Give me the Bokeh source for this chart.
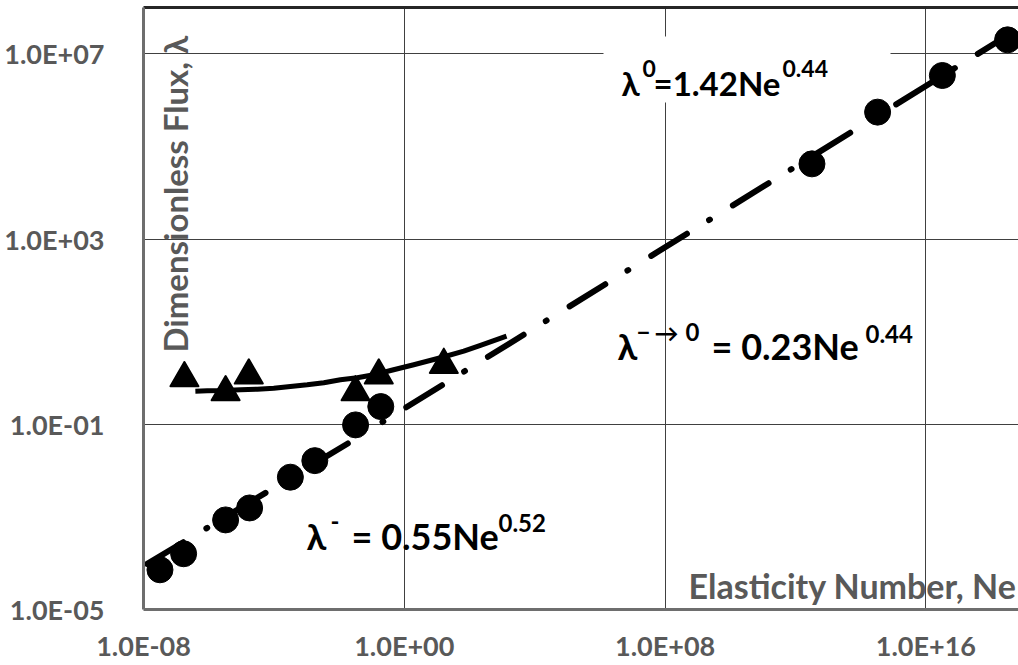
import math
from bokeh.plotting import figure
from bokeh.models import FixedTicker, CustomJSTickFormatter, LogAxis, BoxAnnotation, Range1d
from bokeh.core.properties import value
from bokeh.embed import file_html
from bokeh.resources import INLINE

# ---------------- data ----------------
lam_minus_ne = [3.2e-8, 1.7e-7, 3.3e-6, 1.8e-5, 3.2e-4, 1.8e-3, 3.2e-2, 0.19]
lam_minus_flux = [7.2e-5, 1.6e-4, 8.6e-4, 1.56e-3, 7.2e-3, 1.64e-2, 9.7e-2, 0.241]

lam_zero_ne = [3.2e12, 3.3e14, 3.2e16, 3.2e18]
lam_zero_flux = [4.2e4, 5.5e5, 3.4e6, 2.0e7]

lam_trans_ne = [1.8e-7, 3.3e-6, 1.7e-5, 3.2e-2, 0.165, 16.3]
lam_trans_flux = [1.23, 0.61, 1.40, 0.61, 1.40, 2.38]

trans_curve_ne = [3.9e-7, 9.0e-7, 2.9e-6, 9.4e-6, 3.1e-5, 9.9e-5, 3.2e-4, 1.05e-3,
                  3.4e-3, 1.1e-2, 3.6e-2, 0.116, 0.38, 1.95, 12.9, 66.8, 217, 1365]
trans_curve_flux = [0.519, 0.529, 0.537, 0.556, 0.573, 0.601, 0.655, 0.711,
                    0.787, 0.914, 1.009, 1.17, 1.45, 1.93, 2.73, 3.79, 5.04, 8.0]

fit_minus_ne = [1.3e-8, 3.7e-2]
fit_minus_flux = [9.66e-5, 5.16e-2]

fit_zero_ne = [0.214, 1e19]
fit_zero_flux = [0.1117, 4.09e7]

x_ticks = [1e-8, 1e0, 1e8, 1e16]
x_tick_labels = ["1.0E-08", "1.0E+00", "1.0E+08", "1.0E+16"]
y_ticks = [1e-5, 1e-1, 1e3, 1e7]
y_tick_labels = ["1.0E-05", "1.0E-01", "1.0E+03", "1.0E+07"]

# ---------------- layout ----------------
W, H = 1018, 665
FL, FT, FB = 143, 7, 56
FW = W - FL
FH = H - FT - FB
PXD = 32.6                      # px per decade on x
X_LO = -8.0
X_HI = X_LO + FW / PXD
Y_LO, Y_HI = -5.0, 8.0
PYD = FH / (Y_HI - Y_LO)

def dx(px):
    return 10 ** (X_LO + (px - FL) / PXD)

def dy(py):
    return 10 ** (Y_HI - (py - FT) / PYD)

FONT = "Lato"
GRAY = "#595959"

p = figure(width=W, height=H, x_axis_type="log", y_axis_type="log",
           x_range=Range1d(10 ** X_LO, 10 ** X_HI), y_range=Range1d(10 ** Y_LO, 10 ** Y_HI),
           output_backend="svg", toolbar_location=None,
           min_border_left=FL, min_border_right=0, min_border_top=FT, min_border_bottom=FB)
p.outline_line_color = None
p.background_fill_color = "white"
p.border_fill_color = "white"

fmt_code = """
let best = 0;
for (let i = 0; i < vals.length; i++) {
  if (Math.abs(Math.log10(vals[i]) - Math.log10(tick)) < Math.abs(Math.log10(vals[best]) - Math.log10(tick))) best = i;
}
return labs[best];
"""

for ax, ticks, labs, standoff in ((p.xaxis[0], x_ticks, x_tick_labels, 13),
                                   (p.yaxis[0], y_ticks, y_tick_labels, 33)):
    ax.ticker = FixedTicker(ticks=ticks)
    ax.formatter = CustomJSTickFormatter(args=dict(vals=ticks, labs=labs), code=fmt_code)
    ax.major_tick_line_color = None
    ax.minor_tick_line_color = None
    ax.major_label_text_font = FONT
    ax.major_label_text_font_style = "bold"
    ax.major_label_text_font_size = "27px"
    ax.major_label_text_color = GRAY
    ax.major_label_standoff = standoff
    ax.axis_line_color = "#6e6e6e"
    ax.axis_line_width = 3

top = LogAxis(ticker=FixedTicker(ticks=[]), axis_line_color="#262626", axis_line_width=3,
              major_tick_line_color=None, minor_tick_line_color=None,
              major_label_text_font_size="0px")
p.add_layout(top, "above")

p.xgrid.ticker = FixedTicker(ticks=x_ticks)
p.ygrid.ticker = FixedTicker(ticks=y_ticks)
for g in (p.xgrid[0], p.ygrid[0]):
    g.grid_line_color = "#404040"
    g.grid_line_width = 1

# white box behind the upper equation
p.add_layout(BoxAnnotation(left=dx(603), right=dx(890), top=dy(36), bottom=dy(102),
                           fill_color="white", fill_alpha=1.0, line_color=None, level="underlay"))

# fit lines
p.line(fit_minus_ne, fit_minus_flux, line_color="black", line_width=6,
       line_dash="42 27 1 26", line_cap="round")
p.line(fit_zero_ne, fit_zero_flux, line_color="black", line_width=6,
       line_dash="1 27 42 26", line_cap="round")
p.line(trans_curve_ne, trans_curve_flux, line_color="black", line_width=5, line_join="round")

# markers
p.scatter(lam_minus_ne, lam_minus_flux, marker="circle", size=26, fill_color="black", line_color="black")
p.scatter(lam_zero_ne, lam_zero_flux, marker="circle", size=26, fill_color="black", line_color="black")
# bokeh anchors triangles at their centroid; the reading is the box centre
tri_shift = 10 ** (-4.3 / PYD)
p.scatter(lam_trans_ne, [v * tri_shift for v in lam_trans_flux], marker="triangle", size=28,
          fill_color="black", line_color="black", line_width=2, line_join="round")

def put(txt, px, py, size, color="black", angle=0.0):
    p.text(x=[dx(px)], y=[dy(py)], text=[txt], text_font=value(FONT), text_font_style="bold",
           text_font_size=size, text_color=color, text_align="left", text_baseline="alphabetic",
           angle=angle)

# equation: lambda0
put("λ", 621, 82, "33px")
put("0", 642, 68, "23px")
put("=1.42Ne", 653, 82, "33px")
put("0.44", 782, 68, "23px")

# equation: lambda -> 0
put("λ", 617, 345, "36px")
put("−", 636, 331, "24px")
put("→", 654, 332, "24px")
put("0", 685, 331, "24px")
put("= 0.23Ne", 711, 345, "36px")
put("0.44", 865, 333, "24px")

# equation: lambda-
put("λ", 306, 535, "36px")
put("-", 330, 520, "24px")
put("= 0.55Ne", 351, 535, "36px")
put("0.52", 498, 522, "24px")

# axis titles inside the plot
put("Elasticity Number, Ne", 688, 585, "34px", GRAY)
put("Dimensionless Flux, λ", 174, 352, "33px", GRAY, angle=math.pi / 2)

open("out.html", "w").write(file_html(p, INLINE))
